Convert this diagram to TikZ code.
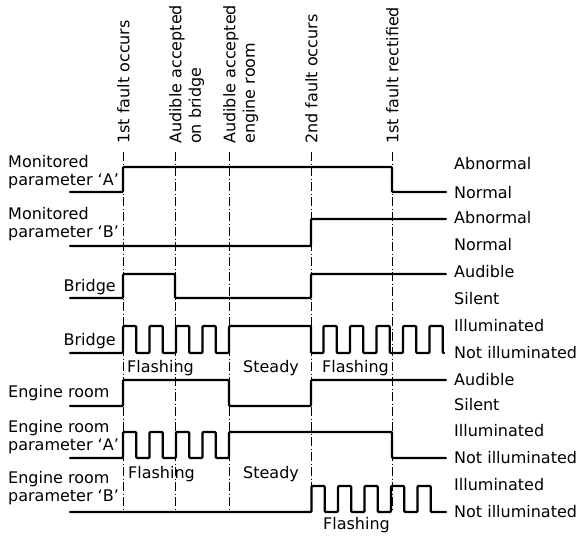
\documentclass[tikz,border=0pt]{standalone}
\usepackage{fontspec}
\setmainfont{DejaVu Sans}
\usepackage{tikz}
\usetikzlibrary{positioning}

\tikzset{sig/.style={line width=2.4pt,line join=round,line cap=round,rounded corners=1pt},
    tline/.style={line width=0.8pt,dash pattern=on 9pt off 2.5pt on 1pt off 2.5pt},
    lbl/.style={inner sep=0pt,font=\fontsize{16}{18}\selectfont},
    evt/.style={inner sep=0pt,rotate=90,anchor=north west,align=left,font=\fontsize{16}{19.5}\selectfont}}

\begin{document}
\begin{tikzpicture}[x=1pt,y=-1pt]
    \newcommand{\flash}[4]{\foreach \k in {1,...,#2} {-- ({#1+26.5*(\k-1)},#3)
      -- ({#1+26.5*(\k-1)},#4) -- ({#1+26.5*(\k-1)+13.25},#4) -- ({#1+26.5*(\k-1)+13.25},#3)}}
    \useasboundingbox (0,0) rectangle (584,539);
    \node[evt] (ev1) at (117,144) {1st fault occurs};
    \node[evt] (ev2) at (169,144) {Audible accepted\\on bridge};
    \node[evt] (ev3) at (223,144) {Audible accepted\\engine room};
    \node[evt] (ev4) at (305,144) {2nd fault occurs};
    \node[evt] (ev5) at (386,144) {1st fault rectified};
    \foreach \x in {123,175,229,311,392} \draw[tline] (\x,152) -- (\x,510);
    \node[lbl,anchor=north west,align=left] (monA) at (8,155) {Monitored\\parameter ‘A’};
    \node[lbl,anchor=north west,align=left] (monB) at (8,207) {Monitored\\parameter ‘B’};
    \node[lbl,anchor=base east] (brA) at (116,291) {Bridge};
    \node[lbl,anchor=base east] (brV) at (116,345) {Bridge};
    \node[lbl,anchor=base west] (erA) at (8,397) {Engine room};
    \node[lbl,anchor=north west,align=left] (erpA) at (8,420) {Engine room\\parameter ‘A’};
    \node[lbl,anchor=north west,align=left] (erpB) at (8,471) {Engine room\\parameter ‘B’};
    \draw[sig] (70,192) -- (123,192) -- (123,167) -- (392,167) -- (392,192) -- (446,192);
    \draw[sig] (70,246) -- (311,246) -- (311,219) -- (446,219);
    \draw[sig] (70,298) -- (123,298) -- (123,274) -- (175,274) -- (175,298) -- (311,298) -- (311,274) -- (446,274);
    \draw[sig] (70,353) \flash{123}{4}{353}{326} -- (229,353) -- (229,326) -- (311,326) -- (311,353)
      \flash{323.5}{5}{353}{326} -- (444,353);
    \draw[sig] (70,406) -- (123,406) -- (123,380) -- (229,380) -- (229,406) -- (311,406) -- (311,380) -- (446,380);
    \draw[sig] (70,458) \flash{123}{4}{458}{432} -- (229,458) -- (229,432) -- (392,432) -- (392,458) -- (446,458);
    \draw[sig] (70,512) \flash{311.5}{5}{512}{486} -- (446,512);
    \node[lbl,anchor=base west] (fl1) at (127,372) {Flashing};
    \node[lbl,anchor=base west] (st1) at (243,372) {Steady};
    \node[lbl,anchor=base west] (fl2) at (322,372) {Flashing};
    \node[lbl,anchor=base west] (fl3) at (128,478) {Flashing};
    \node[lbl,anchor=base west] (st2) at (243,478) {Steady};
    \node[lbl,anchor=base west] (fl4) at (323,529) {Flashing};
    \foreach \y/\t [count=\i] in {164/Abnormal,193/Normal,218/Abnormal,245/Normal,272/Audible,299/Silent,
      326/Illuminated,353/Not illuminated,380/Audible,405/Silent,431/Illuminated,458/Not illuminated,
      485/Illuminated,512/Not illuminated}
      \node[lbl,anchor=west] (st\i) at (454,\y) {\t};
\end{tikzpicture}
\end{document}
